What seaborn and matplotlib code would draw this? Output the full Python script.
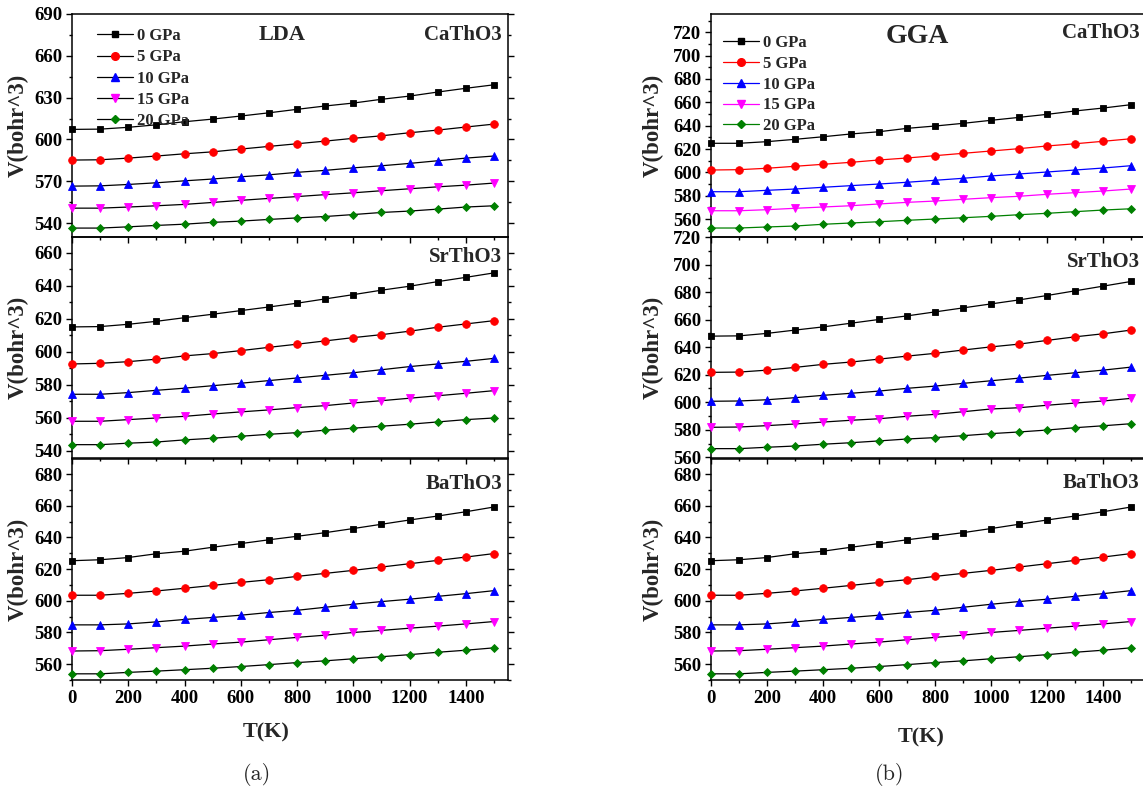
import matplotlib
matplotlib.use("Agg")
import matplotlib.pyplot as plt
from matplotlib.lines import Line2D
from matplotlib.ticker import MultipleLocator
import seaborn as sns

sns.set_style("ticks")
plt.rcParams["font.family"] = ["Liberation Serif", "DejaVu Serif"]
plt.rcParams["font.weight"] = "bold"

# Temperature grid (K)
T = [0, 100, 200, 300, 400, 500, 600, 700, 800, 900, 1000, 1100, 1200, 1300, 1400, 1500]
pressures = ["0 GPa", "5 GPa", "10 GPa", "15 GPa", "20 GPa"]

# LDA volumes (bohr^3)
lda_ca_0 = [607.2, 607.4, 608.7, 610.5, 612.7, 614.6, 616.8, 619.1, 621.6, 624.0, 626.1, 628.8, 631.1, 634.0, 636.7, 639.2]
lda_ca_5 = [585.2, 585.4, 586.6, 588.1, 589.7, 591.1, 593.1, 595.0, 596.9, 598.8, 600.8, 602.6, 604.8, 606.7, 608.9, 611.0]
lda_ca_10 = [566.5, 566.7, 567.7, 568.9, 570.3, 571.6, 573.2, 574.6, 576.4, 577.8, 579.6, 581.1, 582.8, 584.7, 586.6, 588.1]
lda_ca_15 = [550.7, 550.7, 551.5, 552.4, 553.4, 554.8, 556.3, 557.7, 559.0, 560.4, 561.7, 563.2, 564.6, 566.0, 567.2, 568.7]
lda_ca_20 = [536.4, 536.4, 537.3, 538.3, 539.2, 540.5, 541.4, 542.6, 543.7, 544.7, 546.1, 547.6, 548.6, 550.0, 551.5, 552.4]

lda_sr_0 = [615.1, 615.3, 616.7, 618.5, 620.7, 622.8, 625.0, 627.2, 629.5, 632.1, 634.7, 637.4, 639.8, 642.6, 645.2, 647.9]
lda_sr_5 = [592.6, 593.0, 594.0, 595.5, 597.5, 598.9, 600.7, 602.7, 604.6, 606.6, 608.6, 610.4, 612.5, 614.9, 616.9, 618.9]
lda_sr_10 = [574.2, 574.2, 575.2, 576.6, 577.9, 579.4, 580.9, 582.5, 584.1, 585.7, 587.3, 589.1, 591.0, 592.6, 594.2, 596.0]
lda_sr_15 = [557.8, 557.8, 558.8, 559.8, 560.8, 562.2, 563.5, 564.7, 566.1, 567.3, 568.9, 570.3, 571.8, 573.3, 574.8, 576.4]
lda_sr_20 = [543.6, 543.6, 544.5, 545.2, 546.5, 547.5, 548.7, 549.9, 550.9, 552.4, 553.6, 554.8, 556.0, 557.4, 558.8, 559.8]

lda_ba_0 = [625.3, 625.9, 627.3, 629.7, 631.3, 633.8, 636.1, 638.5, 640.7, 643.0, 645.6, 648.3, 651.0, 653.5, 656.2, 659.2]
lda_ba_5 = [603.5, 603.5, 604.7, 606.2, 607.9, 609.7, 611.6, 613.3, 615.4, 617.3, 619.2, 621.3, 623.4, 625.5, 627.6, 629.8]
lda_ba_10 = [584.8, 584.8, 585.4, 586.7, 588.2, 589.5, 590.9, 592.6, 594.0, 595.9, 597.8, 599.5, 601.0, 602.8, 604.5, 606.4]
lda_ba_15 = [568.3, 568.5, 569.4, 570.4, 571.4, 572.7, 573.9, 575.4, 576.9, 578.3, 580.0, 581.3, 582.7, 584.0, 585.4, 586.9]
lda_ba_20 = [553.9, 553.9, 554.8, 555.6, 556.5, 557.4, 558.5, 559.7, 561.0, 562.1, 563.4, 564.7, 566.0, 567.5, 568.8, 570.3]

# GGA volumes (bohr^3)
gga_ca_0 = [624.9, 624.9, 626.3, 628.3, 630.5, 632.9, 634.8, 637.7, 639.7, 642.0, 644.6, 647.1, 649.7, 652.6, 655.1, 658.0]
gga_ca_5 = [602.0, 602.3, 603.5, 605.2, 606.9, 608.6, 610.6, 612.3, 614.3, 616.3, 618.3, 620.3, 622.6, 624.5, 626.6, 628.8]
gga_ca_10 = [583.4, 583.4, 584.6, 585.7, 587.2, 588.6, 590.0, 591.5, 593.2, 594.9, 596.9, 598.6, 600.3, 602.0, 603.7, 605.7]
gga_ca_15 = [567.1, 567.1, 568.0, 569.2, 570.3, 571.4, 572.9, 574.3, 575.4, 576.9, 578.3, 579.5, 581.2, 582.6, 584.0, 585.7]
gga_ca_20 = [552.3, 552.3, 553.2, 554.0, 555.5, 556.6, 557.7, 558.9, 560.0, 561.1, 562.3, 563.7, 564.9, 566.3, 567.7, 568.8]

gga_sr_0 = [648.0, 648.2, 650.0, 652.4, 654.7, 657.4, 660.1, 662.7, 665.6, 668.5, 671.4, 674.3, 677.5, 680.9, 684.3, 687.7]
gga_sr_5 = [621.7, 621.9, 623.3, 625.3, 627.5, 629.2, 631.3, 633.5, 635.5, 637.9, 640.2, 642.2, 644.9, 647.5, 649.7, 652.4]
gga_sr_10 = [600.7, 600.9, 601.8, 603.3, 605.0, 606.5, 608.1, 610.1, 611.7, 613.7, 615.6, 617.5, 619.5, 621.4, 623.3, 625.5]
gga_sr_15 = [581.8, 582.0, 583.0, 584.2, 585.6, 586.9, 588.0, 589.8, 591.2, 593.1, 595.1, 596.0, 597.8, 599.4, 600.9, 602.8]
gga_sr_20 = [566.3, 566.3, 567.3, 568.2, 569.5, 570.6, 571.9, 573.3, 574.3, 575.7, 577.2, 578.4, 579.8, 581.5, 582.9, 584.4]

gga_ba_0 = [625.3, 625.9, 627.3, 629.7, 631.3, 633.8, 636.1, 638.5, 640.7, 643.0, 645.6, 648.3, 651.0, 653.5, 656.2, 659.2]
gga_ba_5 = [603.5, 603.5, 604.7, 606.2, 607.9, 609.7, 611.6, 613.3, 615.4, 617.3, 619.2, 621.3, 623.4, 625.5, 627.6, 629.8]
gga_ba_10 = [584.8, 584.8, 585.4, 586.7, 588.2, 589.5, 590.9, 592.6, 594.0, 595.9, 597.8, 599.5, 601.0, 602.8, 604.5, 606.4]
gga_ba_15 = [568.3, 568.5, 569.4, 570.4, 571.4, 572.7, 573.9, 575.4, 576.9, 578.3, 580.0, 581.3, 582.7, 584.0, 585.4, 586.9]
gga_ba_20 = [553.9, 553.9, 554.8, 555.6, 556.5, 557.4, 558.5, 559.7, 561.0, 562.1, 563.4, 564.7, 566.0, 567.5, 568.8, 570.3]

colors = ["#000000", "#ff0000", "#0000ff", "#ff00ff", "#008000"]
markers = ["s", "o", "^", "v", "D"]
msizes = [5.0, 5.5, 6.0, 6.0, 4.5]

W, H = 1143, 795
fig = plt.figure(figsize=(W / 100, H / 100), dpi=100)


def px_axes(x0, x1, y0, y1):
    return fig.add_axes([x0 / W, 1 - y1 / H, (x1 - x0) / W, (y1 - y0) / H])


rows = [(14, 237), (237, 458), (459, 680)]
cols = [(72, 508), (711, 1145)]

panels = {
    (0, 0): dict(data=[lda_ca_0, lda_ca_5, lda_ca_10, lda_ca_15, lda_ca_20], ylim=(530, 690), major=30, minor=15,
                 name="CaThO3", colored=False, yname=0.908),
    (1, 0): dict(data=[lda_sr_0, lda_sr_5, lda_sr_10, lda_sr_15, lda_sr_20], ylim=(535.5, 669.7), major=20, minor=10,
                 name="SrThO3", colored=False, yname=0.91),
    (2, 0): dict(data=[lda_ba_0, lda_ba_5, lda_ba_10, lda_ba_15, lda_ba_20], ylim=(550, 689.5), major=20, minor=10,
                 name="BaThO3", colored=False, yname=0.887),
    (0, 1): dict(data=[gga_ca_0, gga_ca_5, gga_ca_10, gga_ca_15, gga_ca_20], ylim=(544.6, 735.7), major=20, minor=10,
                 name="CaThO3", colored=True, yname=0.915),
    (1, 1): dict(data=[gga_sr_0, gga_sr_5, gga_sr_10, gga_sr_15, gga_sr_20], ylim=(559.5, 720), major=20, minor=10,
                 name="SrThO3", colored=False, yname=0.889),
    (2, 1): dict(data=[gga_ba_0, gga_ba_5, gga_ba_10, gga_ba_15, gga_ba_20], ylim=(550, 689.5), major=20, minor=10,
                 name="BaThO3", colored=False, yname=0.89),
}

for c, (x0, x1) in enumerate(cols):
    for r, (y0, y1) in enumerate(rows):
        p = panels[(r, c)]
        ax = px_axes(x0, x1, y0, y1)
        ax.set_zorder(3 - r)
        ax.patch.set_alpha(0)
        for i, vals in enumerate(p["data"]):
            lc = colors[i] if p["colored"] else "#000000"
            sns.lineplot(x=T, y=vals, ax=ax, color=lc, linewidth=0.9, marker=markers[i],
                         markersize=msizes[i], markerfacecolor=colors[i], markeredgecolor=colors[i],
                         markeredgewidth=0.6, clip_on=False, zorder=3)
        ax.set_xlim(0, 1550)
        ax.set_ylim(*p["ylim"])
        ax.xaxis.set_major_locator(MultipleLocator(200))
        ax.xaxis.set_minor_locator(MultipleLocator(100))
        ax.yaxis.set_major_locator(MultipleLocator(p["major"]))
        ax.yaxis.set_minor_locator(MultipleLocator(p["minor"]))
        ax.tick_params(which="both", direction="out", width=1.0, colors="#000000",
                       right=True, top=False, labelsize=13.5, pad=3)
        ax.tick_params(which="major", length=4)
        ax.tick_params(which="minor", length=2.5)
        for s in ax.spines.values():
            s.set_linewidth(1.1)
            s.set_color("#000000")
        for lab in ax.get_xticklabels() + ax.get_yticklabels():
            lab.set_fontweight("bold")
        if r < 2:
            ax.tick_params(axis="x", labelbottom=False)
        if r == 2:
            ax.set_xlabel("T(K)", fontsize=16, fontweight="bold")
            if c == 0:
                ax.xaxis.set_label_coords(0.445, -0.19)
            else:
                ax.xaxis.set_label_coords(0.484, -0.213)
        else:
            ax.set_xlabel("")
        ax.set_ylabel("V(bohr^3)", fontsize=16.5, fontweight="bold")
        ax.yaxis.set_label_coords(-0.099 if c == 0 else -0.108, 0.5)
        ax.text(0.986 if c == 0 else 0.988, p["yname"], p["name"], transform=ax.transAxes,
                ha="right", va="center", fontsize=15, fontweight="bold")
        if r == 0:
            if c == 0:
                ax.text(0.483, 0.908, "LDA", transform=ax.transAxes, ha="center", va="center",
                        fontsize=16, fontweight="bold")
                anchor = (0.057, 0.936)
                spacing = 0.31
            else:
                ax.text(0.475, 0.897, "GGA", transform=ax.transAxes, ha="center", va="center",
                        fontsize=20, fontweight="bold")
                anchor = (0.028, 0.906)
                spacing = 0.29
            handles = [Line2D([], [], color=(colors[i] if p["colored"] else "#000000"), linewidth=0.9,
                              marker=markers[i], markersize=msizes[i], markerfacecolor=colors[i],
                              markeredgecolor=colors[i]) for i in range(5)]
            ax.legend(handles, pressures, loc="upper left", bbox_to_anchor=anchor, frameon=False,
                      prop=dict(size=12, weight="bold"), handlelength=2.15, handletextpad=0.24,
                      labelspacing=spacing, borderpad=0, borderaxespad=0)

fig.text(257 / W, 1 - 775 / H, "(a)", ha="center", va="center", fontsize=16, family="cmr10")
fig.text(890 / W, 1 - 775 / H, "(b)", ha="center", va="center", fontsize=16, family="cmr10")

fig.savefig("out.png", dpi=100)
